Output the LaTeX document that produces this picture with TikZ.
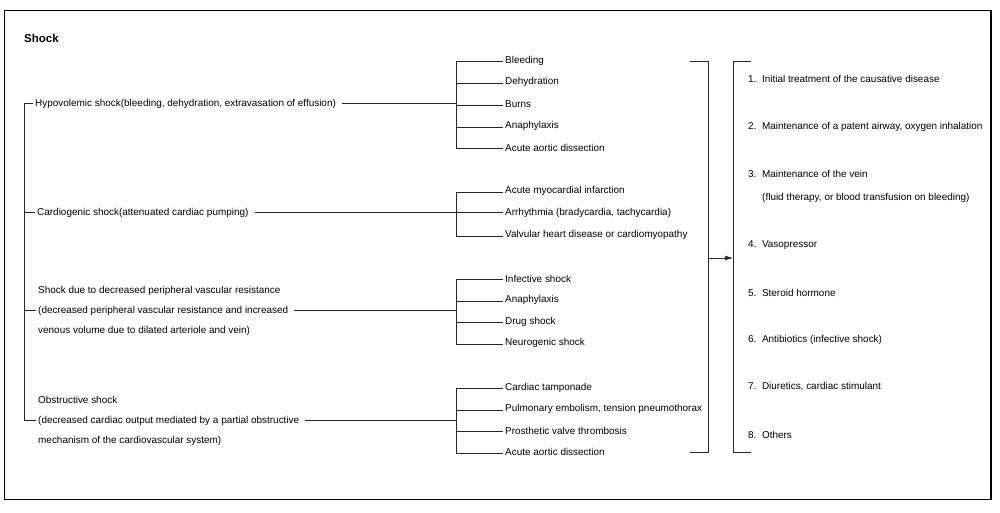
\documentclass[tikz,border=0pt]{standalone}
\usepackage{fontspec}
\setmainfont{Liberation Sans}
\usetikzlibrary{arrows.meta}
\begin{document}
\begin{tikzpicture}[x=1pt,y=-1pt,
  wire/.style={line width=0.6pt, draw=black!85},
  lbl/.style={anchor=west, inner sep=2pt, font=\fontsize{9.95}{20.3}\selectfont, align=left},
  title/.style={anchor=west, inner sep=0pt, font=\fontsize{11.5}{13}\selectfont\bfseries}]
\useasboundingbox (0,0) rectangle (1000,512);
\draw[line width=0.8pt] (4,10) -- (991,10);
\draw[line width=0.8pt] (4,10) -- (4,499.5);
\draw[line width=1.6pt] (3.6,499.5) -- (991,499.5) -- (991,9.6);

\node[title] (shock) at (24,38) {Shock};

% left tree
\coordinate (L0) at (24,103);
\coordinate (L1) at (24,212);
\coordinate (L2) at (24,310);
\coordinate (L3) at (24,420);
\node[lbl] (hypo) at (33,104) {Hypovolemic shock(bleeding, dehydration, extravasation of effusion)};
\node[lbl] (cardio) at (35,213) {Cardiogenic shock(attenuated cardiac pumping)};
\node[lbl] (distr) at (36,311) {Shock due to decreased peripheral vascular resistance\\(decreased peripheral vascular resistance and increased\\venous volume due to dilated arteriole and vein)};
\node[lbl] (obst) at (36,421) {Obstructive shock\\(decreased cardiac output mediated by a partial obstructive\\mechanism of the cardiovascular system)};
\draw[wire] (hypo.west|-L0) -- (L0) -- (L3) -- (obst.west|-L3);
\draw[wire] (L1) -- (cardio.west|-L1);
\draw[wire] (L2) -- (distr.west|-L2);

% group 1
\coordinate (A0) at (456,103);
\node[lbl] (a1) at (503,60.5) {Bleeding};
\node[lbl] (a2) at (503,82.3) {Dehydration};
\node[lbl] (a3) at (503,104) {Burns};
\node[lbl] (a4) at (503,125.8) {Anaphylaxis};
\node[lbl] (a5) at (503,147.6) {Acute aortic dissection};
\draw[wire] ([xshift=4pt]hypo.east|-A0) -- (A0);
\draw[wire] ([yshift=-1pt]a1.west) -- ([yshift=-1pt]A0|-a1.west) -- ([yshift=-1pt]A0|-a5.west) -- ([yshift=-1pt]a5.west);
\foreach \n in {a2,a3,a4} \draw[wire] ([yshift=-1pt]A0|-\n.west) -- ([yshift=-1pt]\n.west);

% group 2
\coordinate (B0) at (456,212);
\node[lbl] (b1) at (503,191) {Acute myocardial infarction};
\node[lbl] (b2) at (503,213) {Arrhythmia (bradycardia, tachycardia)};
\node[lbl] (b3) at (503,235) {Valvular heart disease or cardiomyopathy};
\draw[wire] ([xshift=4pt]cardio.east|-B0) -- (B0);
\draw[wire] ([yshift=-1pt]b1.west) -- ([yshift=-1pt]B0|-b1.west) -- ([yshift=-1pt]B0|-b3.west) -- ([yshift=-1pt]b3.west);
\draw[wire] (B0) -- (b2.west|-B0);

% group 3
\coordinate (C0) at (456,310);
\node[lbl] (c1) at (503,278.5) {Infective shock};
\node[lbl] (c2) at (503,300) {Anaphylaxis};
\node[lbl] (c3) at (503,321.5) {Drug shock};
\node[lbl] (c4) at (503,343) {Neurogenic shock};
\draw[wire] ([xshift=4pt]distr.east|-C0) -- (C0);
\draw[wire] ([yshift=-1pt]c1.west) -- ([yshift=-1pt]C0|-c1.west) -- ([yshift=-1pt]C0|-c4.west) -- ([yshift=-1pt]c4.west);
\foreach \n in {c2,c3} \draw[wire] ([yshift=-1pt]C0|-\n.west) -- ([yshift=-1pt]\n.west);

% group 4
\coordinate (D0) at (456,420);
\node[lbl] (d1) at (503,387.5) {Cardiac tamponade};
\node[lbl] (d2) at (503,409) {Pulmonary embolism, tension pneumothorax};
\node[lbl] (d3) at (503,430.5) {Prosthetic valve thrombosis};
\node[lbl] (d4) at (503,452) {Acute aortic dissection};
\draw[wire] ([xshift=4pt]obst.east|-D0) -- (D0);
\draw[wire] ([yshift=-1pt]d1.west) -- ([yshift=-1pt]D0|-d1.west) -- ([yshift=-1pt]D0|-d4.west) -- ([yshift=-1pt]d4.west);
\foreach \n in {d2,d3} \draw[wire] ([yshift=-1pt]D0|-\n.west) -- ([yshift=-1pt]\n.west);

% right brackets
\coordinate (R1t) at (690,61);
\coordinate (R1b) at (690,452);
\coordinate (R2t) at (751,61);
\coordinate (R2b) at (751,452);
\coordinate (Ra) at (708,258);
\coordinate (Rb) at (733,258);
\draw[wire] (R1t) -- (708,61) -- (708,452) -- (R1b);
\draw[wire] (R2t) -- (733,61) -- (733,452) -- (R2b);
\draw[wire, -{Latex[length=8pt,width=5pt]}] (Ra) -- (Rb);

% treatments
\node[lbl] (t1) at (746,79) {1.\ \ Initial treatment of the causative disease};
\node[lbl] (t2) at (746,127) {2.\ \ Maintenance of a patent airway, oxygen inhalation};
\node[lbl] (t3) at (746,174) {3.\ \ Maintenance of the vein};
\node[lbl] (t3b) at (760,198) {(fluid therapy, or blood transfusion on bleeding)};
\node[lbl] (t4) at (746,245) {4.\ \ Vasopressor};
\node[lbl] (t5) at (746,293) {5.\ \ Steroid hormone};
\node[lbl] (t6) at (746,340) {6.\ \ Antibiotics (infective shock)};
\node[lbl] (t7) at (746,387) {7.\ \ Diuretics, cardiac stimulant};
\node[lbl] (t8) at (746,435) {8.\ \ Others};
\end{tikzpicture}
\end{document}
